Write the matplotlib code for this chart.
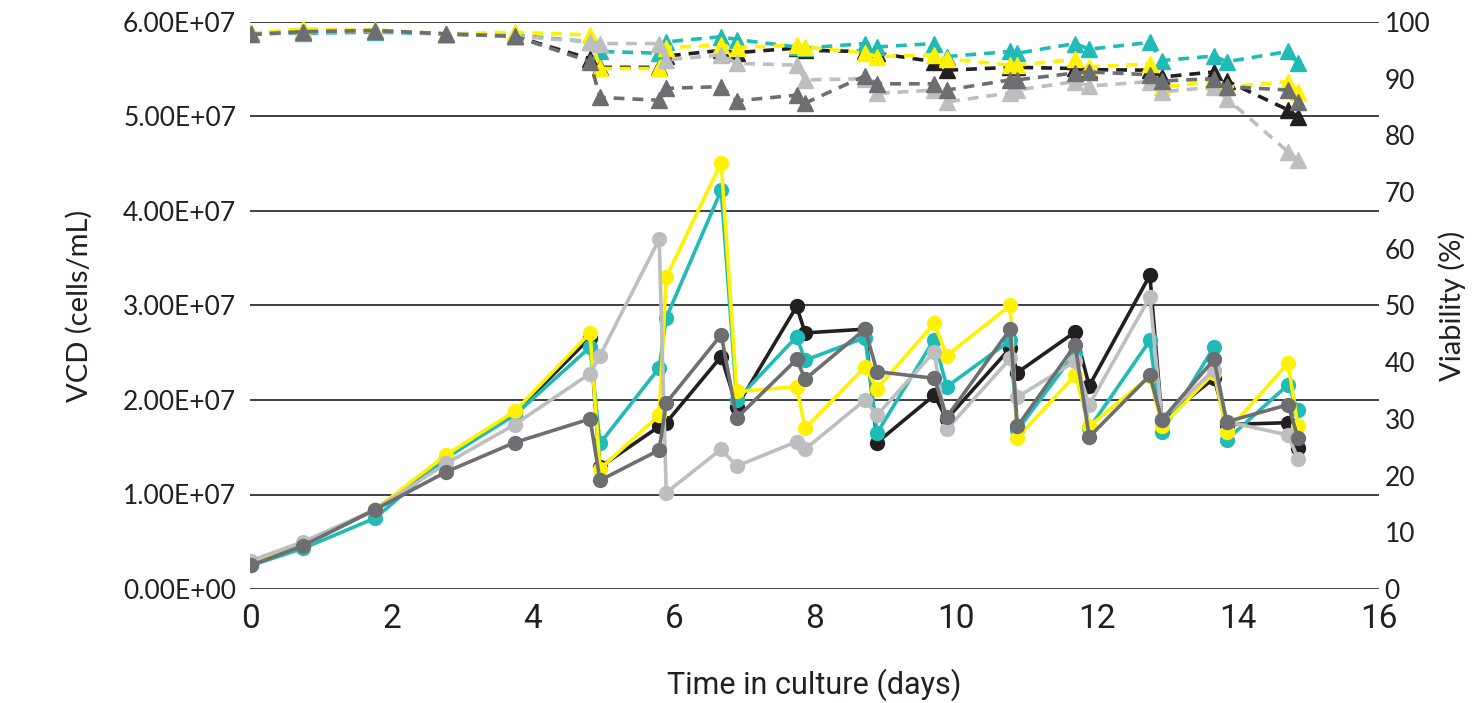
import matplotlib
matplotlib.use("Agg")
import matplotlib.pyplot as plt
import numpy as np

# sampling times (days) - pre / post medium exchange pairs after day 4
days = [0, 0.74, 1.76, 2.77, 3.74, 4.81, 4.95, 5.79, 5.89, 6.67, 6.89, 7.74, 7.86,
        8.71, 8.88, 9.69, 9.87, 10.77, 10.87, 11.69, 11.89, 12.75, 12.92, 13.66,
        13.84, 14.71, 14.85]

# viable cell density, 1e6 cells/mL
vcd_black = [2.6, 4.6, 8.4, 13.9, 18.6, 26.6, 12.9, 17.2, 17.6, 24.6, 19.3, 29.9, 27.1,
             27.5, 15.5, 20.5, 18.0, 25.5, 22.9, 27.2, 21.5, 33.2, 17.9, 22.3, 17.4, 17.6, 14.9]
vcd_teal = [2.5, 4.3, 7.5, 13.9, 18.4, 25.6, 15.4, 23.4, 28.7, 42.2, 20.0, 26.7, 24.2,
            26.6, 16.5, 26.4, 21.4, 26.3, 16.8, 25.0, 17.0, 26.3, 16.6, 25.6, 15.8, 21.6, 18.9]
vcd_yellow = [2.8, 4.6, 8.4, 14.2, 18.8, 27.1, 12.7, 18.4, 33.0, 45.1, 20.9, 21.4, 17.0,
              23.5, 21.2, 28.1, 24.7, 30.0, 16.0, 22.6, 17.2, 22.5, 17.2, 22.9, 16.6, 23.9, 17.2]
vcd_lgray = [3.0, 5.0, 8.4, 13.3, 17.4, 22.8, 24.7, 37.0, 10.2, 14.8, 13.0, 15.6, 14.8,
             20.0, 18.4, 25.1, 16.9, 24.4, 20.3, 24.1, 19.5, 30.9, 18.0, 23.2, 17.7, 16.3, 13.8]
vcd_dgray = [2.5, 4.6, 8.4, 12.4, 15.5, 18.0, 11.5, 14.7, 19.7, 26.9, 18.1, 24.3, 22.2,
             27.5, 23.0, 22.3, 18.2, 27.5, 17.2, 25.8, 16.1, 22.6, 17.9, 24.3, 17.7, 19.5, 16.0]

# viability, %
via_black = [98, 98.3, 98.5, 97.9, 97.5, 93.5, 92, 92, 94, 95, 94.6, 95.4, 95,
             94.8, 94.5, 93.0, 91.5, 92, 92, 91.8, 91.6, 91.5, 90.3, 91.2, 89.6, 84.5, 83.3]
via_teal = [98, 98.0, 98.2, 97.9, 97.7, 96.5, 94.8, 94.5, 96.5, 97.4, 96.9, 95.6, 95.4,
            96.2, 95.6, 96.2, 93.9, 94.8, 94.5, 96.2, 95.2, 96.4, 93.2, 94.0, 93.0, 94.8, 92.7]
via_yellow = [98, 98.8, 98.6, 97.9, 98.2, 97.7, 91.8, 91.8, 95.5, 95.9, 95.5, 95.9, 95.6,
              94.5, 93.9, 94.2, 93.5, 92.4, 92.4, 93.4, 92.1, 92.6, 88.5, 89.5, 88.5, 89.5, 87.7]
via_lgray = [97.8, 98.2, 98.4, 97.9, 97.5, 96.5, 96.2, 96.2, 93.3, 94.2, 92.7, 92.4, 89.8,
             90.0, 87.4, 88.0, 85.9, 87.5, 88.0, 89.5, 88.7, 89.5, 87.7, 88.5, 86.5, 77.1, 75.7]
via_dgray = [97.8, 98.3, 98.5, 97.9, 97.5, 93.0, 86.7, 86.2, 88.3, 88.6, 86.1, 87.1, 85.7,
             90.5, 89.1, 89.1, 88.0, 89.8, 89.8, 91.0, 91.2, 90.7, 89.6, 90.0, 88.6, 88.0, 85.9]

x_ticks = [0, 2, 4, 6, 8, 10, 12, 14, 16]
vcd_ticks = [0, 1e7, 2e7, 3e7, 4e7, 5e7, 6e7]
vcd_tick_labels = ["0.00E+00", "1.00E+07", "2.00E+07", "3.00E+07", "4.00E+07",
                   "5.00E+07", "6.00E+07"]
via_ticks = [0, 10, 20, 30, 40, 50, 60, 70, 80, 90, 100]

BLACK = "#231f20"
TEAL = "#21bbb7"
YELLOW = "#fff200"
LGRAY = "#bcbec0"
DGRAY = "#6d6e71"

series = [
    (vcd_black, via_black, BLACK),
    (vcd_teal, via_teal, TEAL),
    (vcd_yellow, via_yellow, YELLOW),
    (vcd_lgray, via_lgray, LGRAY),
    (vcd_dgray, via_dgray, DGRAY),
]

plt.rcParams["font.family"] = ["Lato", "DejaVu Sans"]
XFONT = ["Roboto", "DejaVu Sans"]

fig = plt.figure(figsize=(14.81, 7.03), dpi=100)
ax = fig.add_axes([250 / 1481, 114 / 703, 1129 / 1481, 567 / 703])
ax2 = ax.twinx()

for vcd, via, col in series:
    ax.plot(days, np.array(vcd) * 1e6, color=col, lw=2.6, marker="o", ms=10,
            solid_joinstyle="round", zorder=3)
    ax2.plot(days, via, color=col, lw=2.6, ls=(0, (3, 2.2)), marker="^", ms=12,
             zorder=3)

ax.set_xlim(-0.014, 16)
ax.set_ylim(0, 6e7)
ax2.set_ylim(0, 100)

ax.set_yticks(vcd_ticks)
ax.set_yticklabels(vcd_tick_labels, fontsize=19, color=BLACK)
ax2.set_yticks(via_ticks)
ax2.set_yticklabels([str(v) for v in via_ticks], fontsize=19, color=BLACK)
ax.set_xticks(x_ticks)
ax.set_xticklabels([str(v) for v in x_ticks], fontsize=24, family=XFONT,
                   color=BLACK)

ax.tick_params(axis="y", length=0, pad=10)
ax2.tick_params(axis="y", length=0, pad=4)
ax.tick_params(axis="x", length=0, pad=10)

ax.grid(axis="y", color=BLACK, lw=1.2)
ax.set_axisbelow(True)
for a in (ax, ax2):
    for s in a.spines.values():
        s.set_visible(False)

ax.set_xlabel("Time in culture (days)", fontsize=22, family=XFONT, color=BLACK,
              labelpad=24)
ax.set_ylabel("VCD (cells/mL)", fontsize=21, color=BLACK, labelpad=22)
ax2.set_ylabel("Viability (%)", fontsize=21, color=BLACK, labelpad=6)

fig.savefig("out.png", dpi=100)
